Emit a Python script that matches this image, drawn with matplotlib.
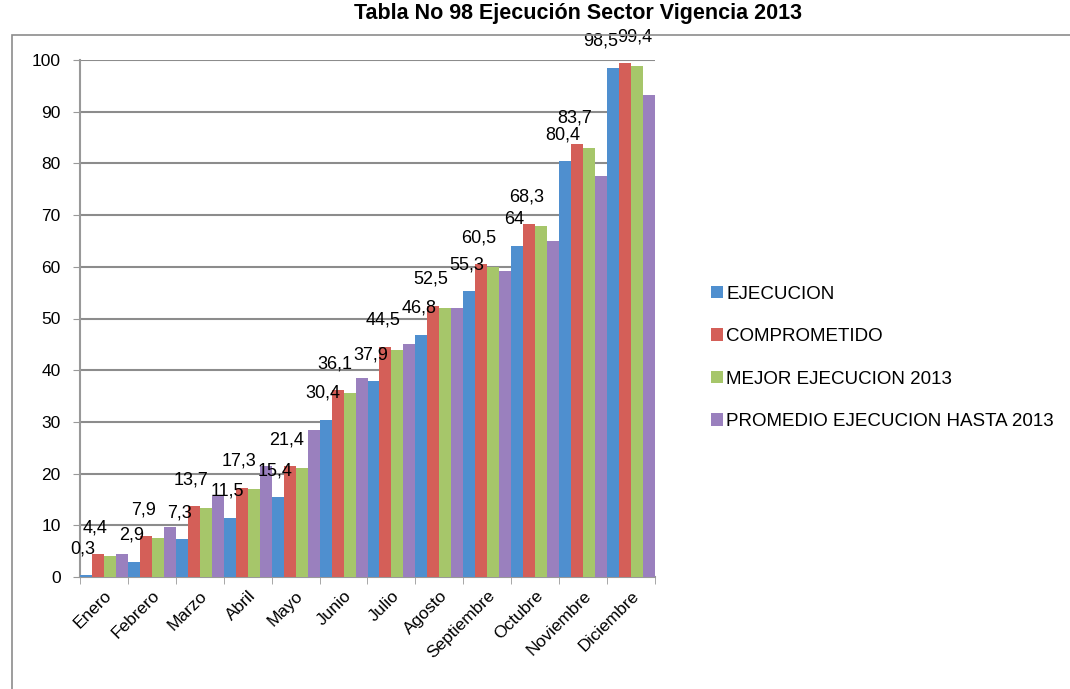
import matplotlib
matplotlib.use("Agg")
import matplotlib.pyplot as plt
from matplotlib.patches import Rectangle
import numpy as np

plt.rcParams['font.family'] = ['Liberation Sans', 'DejaVu Sans']

meses = ["Enero", "Febrero", "Marzo", "Abril", "Mayo", "Junio", "Julio",
         "Agosto", "Septiembre", "Octubre", "Noviembre", "Diciembre"]
ejecucion = [0.3, 2.9, 7.3, 11.5, 15.4, 30.4, 37.9, 46.8, 55.3, 64, 80.4, 98.5]
comprometido = [4.4, 7.9, 13.7, 17.3, 21.4, 36.1, 44.5, 52.5, 60.5, 68.3, 83.7, 99.4]
mejor_2013 = [4.0, 7.5, 13.3, 17.0, 21.0, 35.5, 44.0, 52.0, 60.0, 67.8, 83.0, 98.8]
promedio = [4.5, 9.7, 15.7, 21.5, 28.5, 38.5, 45.0, 52.0, 59.2, 65.0, 77.5, 93.2]

series = [
    ("EJECUCION", ejecucion, "#4F8FCF", True),
    ("COMPROMETIDO", comprometido, "#D45F58", True),
    ("MEJOR EJECUCION 2013", mejor_2013, "#A6C66A", False),
    ("PROMEDIO EJECUCION HASTA 2013", promedio, "#9A80BE", False),
]

fig = plt.figure(figsize=(10.7, 6.89), dpi=100)
W, H = 1070, 689
ax = fig.add_axes([80 / W, 1 - 577 / H, (655 - 80) / W, (577 - 60) / H])

x = np.arange(len(meses))
bw = 0.25
offsets = [-1.5, -0.5, 0.5, 1.5]
handles = []
n = len(meses)
for si, ((name, vals, col, lab), off) in enumerate(zip(series, offsets)):
    bars = ax.bar(x + off * bw, vals, width=bw, color=col, edgecolor='none',
                  clip_on=False, label=name, zorder=3)
    handles.append(bars)
    if lab:
        for k, (xi, v) in enumerate(zip(x + off * bw, vals)):
            txt = ("%g" % v).replace(".", ",")
            dx = -2
            if k == n - 1:
                dx = -9 if si == 0 else 7
            ax.annotate(txt, (xi, v), xytext=(dx, 13), textcoords='offset points',
                        ha='center', va='bottom', fontsize=13, color='black',
                        zorder=5, annotation_clip=False)

ax.set_xlim(-0.5, n - 0.5)
ax.set_ylim(0, 100)
ax.set_yticks(np.arange(0, 101, 10))
ax.set_yticklabels([str(v) for v in range(0, 101, 10)], fontsize=12.5)
ax.yaxis.grid(True, color='#8C8C8C', linewidth=1.5, zorder=0)
ax.set_axisbelow(True)

ax.set_xticks(x)
ax.set_xticklabels(meses, rotation=45, ha='right', rotation_mode='anchor', fontsize=12.5)
ax.set_xticks(np.arange(-0.5, n), minor=True)
ax.tick_params(axis='x', which='major', length=0, pad=8)
ax.tick_params(axis='x', which='minor', length=5, color='#999999')
ax.tick_params(axis='y', length=5, color='#999999', pad=9)

for s in ['top', 'right']:
    ax.spines[s].set_visible(False)
for s in ['left', 'bottom']:
    ax.spines[s].set_color('#999999')
    ax.spines[s].set_linewidth(1.5)

fig.legend(handles=handles, labels=[s[0] for s in series],
           loc='center left', bbox_to_anchor=(711 / W, 1 - 358 / H),
           frameon=False, fontsize=13.5, handlelength=0.65, handleheight=0.65,
           handletextpad=0.15, labelspacing=1.36, borderaxespad=0, borderpad=0)

fig.patches.append(Rectangle((12 / W, -0.01), 1.0, 1 - 35 / H + 0.01,
                             transform=fig.transFigure, fill=False,
                             edgecolor='#8C8C8C', linewidth=1.2))

fig.text(0.54, 1 - 19 / H, "Tabla No 98 Ejecución Sector Vigencia 2013",
         ha='center', va='baseline', fontsize=15.5, fontweight='bold')

fig.savefig("out.png", dpi=100)
